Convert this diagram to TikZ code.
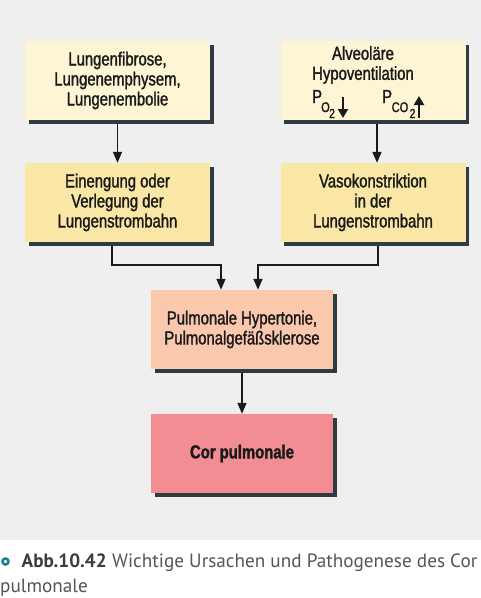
\documentclass[tikz,border=0pt]{standalone}
\usepackage{fontspec}
\setmainfont{Liberation Sans}[FakeStretch=0.79,FakeBold=1.5]
\newfontfamily\capfont{PT Sans}
\usetikzlibrary{arrows.meta,shadows}
\definecolor{bg}{HTML}{EFEFEF}
\definecolor{shd}{HTML}{2E3B40}
\definecolor{cA}{HTML}{FDF5D3}
\definecolor{cB}{HTML}{FAE7A5}
\definecolor{cC}{HTML}{F9C8AD}
\definecolor{cD}{HTML}{F28E93}
\definecolor{txt}{HTML}{1A1A1A}
\definecolor{capgray}{HTML}{555555}
\definecolor{teal}{HTML}{17808F}
\tikzset{
  box/.style={minimum width=185pt, minimum height=79pt, inner sep=0pt, align=center,
    text=txt, font=\fontsize{18.8}{20}\selectfont,
    general shadow={shadow xshift=3.5pt, shadow yshift=-3.5pt, fill=shd}},
  arr/.style={line width=1.6pt, draw=txt, -{Triangle[length=11pt,width=9pt]}},
  bigarr/.style={line width=2.8pt, draw=txt, -{Triangle[length=9pt,width=10pt]}},
  piece/.style={anchor=base west, inner sep=0pt, text=txt},
  captxt/.style={anchor=base west, inner sep=0pt, text=capgray, font=\capfont\fontsize{19.2}{22}\selectfont},
}
\begin{document}
\begin{tikzpicture}[x=1pt,y=-1pt]
\useasboundingbox (0,0) rectangle (481,598);
\fill[white] (0,0) rectangle (481,598);
\fill[bg] (0,0) rectangle (481,540);

\node[box, fill=cA] (a) at (117.5,80.5) {Lungenfibrose,\\Lungenemphysem,\\Lungenembolie};
\node[box, fill=cA] (b) at (373,80.5) {};
\node[text=txt, font=\fontsize{18.8}{20}\selectfont, align=center, anchor=north, inner sep=0pt] (bt) at (363,46)
  {Alveoläre\\Hypoventilation};
% partial pressures
\node[piece, font=\fontsize{18.8}{20}\selectfont] (po) at (312,103) {P};
\node[piece, font=\fontsize{14}{14}\selectfont] (poO) at (321,112) {O};
\node[piece, font=\fontsize{13}{14}\selectfont] (po2) at (329,118) {2};
\coordinate (d1) at (343,97);
\coordinate (d2) at (343,118);
\draw[bigarr] (d1) -- (d2);
\node[piece, font=\fontsize{18.8}{20}\selectfont] (pc) at (382,103) {P};
\node[piece, font=\fontsize{14}{14}\selectfont] (pcC) at (391.5,112) {CO};
\node[piece, font=\fontsize{13}{14}\selectfont] (pc2) at (409.5,118) {2};
\coordinate (u1) at (419,118);
\coordinate (u2) at (419,96);
\draw[bigarr] (u1) -- (u2);

\node[box, fill=cB] (c) at (117.5,202.5) {Einengung oder\\Verlegung der\\Lungenstrombahn};
\node[box, fill=cB] (d) at (373,202.5) {Vasokonstriktion\\in der\\Lungenstrombahn};
\node[box, fill=cC, minimum width=182pt] (e) at (242,329.5) {Pulmonale Hypertonie,\\Pulmonalgefäßsklerose};
\node[box, fill=cD, minimum width=182pt, font=\fontsize{18.8}{20}\selectfont\bfseries] (f) at (242,453.5) {Cor pulmonale};

\draw[arr] ([yshift=-3.5pt]a.south) -- (c.north);
\draw[arr] ([xshift=4pt,yshift=-3.5pt]b.south) -- ([xshift=4pt]d.north);
\draw[arr] ([xshift=-5.5pt,yshift=-3.5pt]c.south) -- ++(0,19) -| ([xshift=-21pt]e.north);
\draw[arr] ([xshift=5pt,yshift=-3.5pt]d.south) -- ++(0,19) -| ([xshift=16pt]e.north);
\draw[arr] ([yshift=-3.5pt]e.south) -- (f.north);

\draw[teal, line width=2.5pt] (5.5,561.5) circle (3pt);
\node[captxt, text=txt!85, font=\capfont\fontsize{19.2}{22}\selectfont\bfseries] (abb) at (21.5,567) {Abb.10.42};
\node[captxt] (cap1) at (112,567) {Wichtige Ursachen und Pathogenese des Cor};
\node[captxt] (cap2) at (0,592) {pulmonale};
\end{tikzpicture}
\end{document}
